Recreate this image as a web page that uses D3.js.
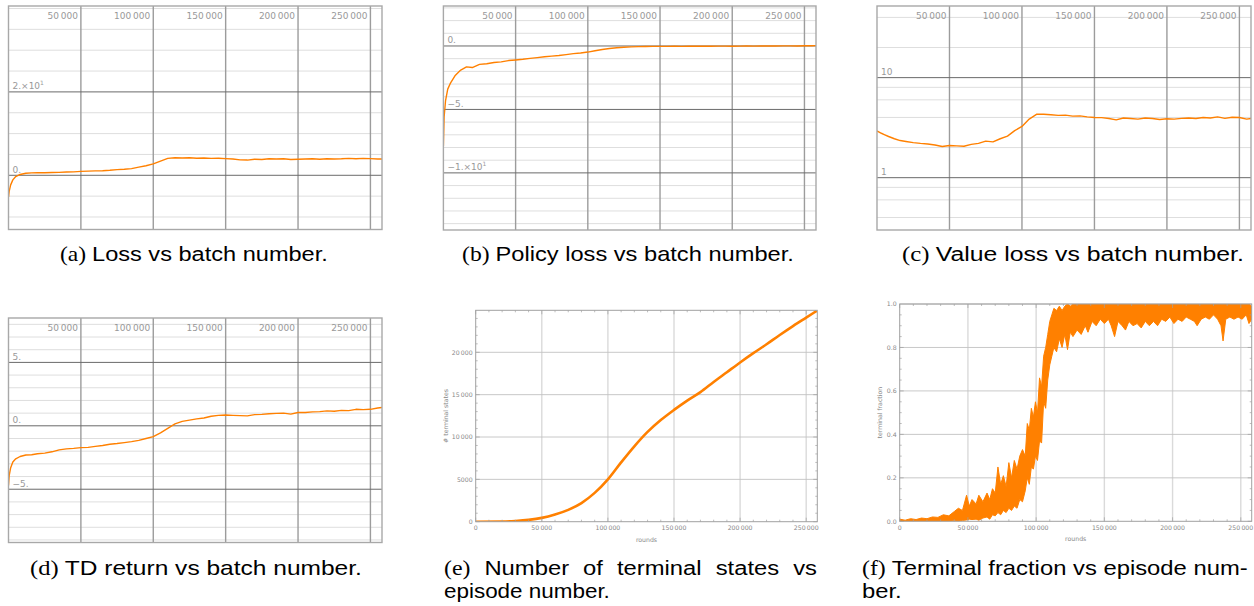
<!DOCTYPE html>
<html>
<head>
<meta charset="utf-8">
<script src="https://cdn.jsdelivr.net/npm/d3@7"></script>
<style>
  body { margin: 0; background: #fff; }
  svg { display: block; }
</style>
</head>
<body>
<svg id="chart" width="1254" height="606"></svg>
<script>
// batch numbers shared by panels (a)-(d)
const batches = [0, 500, 1500, 3000, 5000, 8000, 12000, 16000, 20000, 25000, 30000, 35000, 40000, 45000,
  50000, 55000, 60000, 65000, 70000, 75000, 80000, 85000, 90000, 95000, 100000, 105000, 110000, 115000,
  120000, 125000, 130000, 135000, 140000, 145000, 150000, 155000, 160000, 165000, 170000, 175000, 180000,
  185000, 190000, 195000, 200000, 205000, 210000, 215000, 220000, 225000, 230000, 235000, 240000, 245000,
  250000, 255000, 258000];

const lossValues = [-5.2, -3.8, -2.3, -1.1, -0.3, 0.2, 0.5, 0.58, 0.6, 0.62, 0.66, 0.7, 0.78, 0.82,
  0.95, 1.0, 1.05, 1.1, 1.2, 1.35, 1.45, 1.6, 1.95, 2.3, 2.75, 3.4, 4.05, 4.2,
  4.15, 4.2, 4.1, 4.15, 4.05, 4.1, 4.0, 3.9, 3.7, 3.65, 3.85, 3.8, 3.95,
  3.9, 3.95, 3.8, 3.85, 3.9, 3.95, 3.85, 3.95, 3.9, 3.95, 4.05, 3.95, 4.05,
  4.0, 3.9, 3.9];

const policyLossValues = [-7.9, -5.6, -4.3, -3.4, -2.9, -2.35, -1.9, -1.65, -1.7, -1.45, -1.4, -1.3, -1.25, -1.15,
  -1.1, -1.05, -0.98, -0.92, -0.85, -0.8, -0.75, -0.68, -0.6, -0.55, -0.48, -0.38, -0.28, -0.2,
  -0.14, -0.1, -0.07, -0.05, -0.04, -0.03, -0.03, -0.03, -0.02, -0.03, -0.02, -0.02, -0.01,
  -0.02, -0.01, -0.01, -0.02, -0.01, 0, -0.01, 0, 0.01, 0, 0.01, 0.01, 0,
  0.02, 0.02, 0.03];

const valueLossValues = [2.95, 2.9, 2.85, 2.78, 2.7, 2.58, 2.45, 2.35, 2.3, 2.24, 2.2, 2.17, 2.12, 2.05,
  2.1, 2.08, 2.06, 2.15, 2.2, 2.32, 2.28, 2.45, 2.6, 2.95, 3.25, 3.85, 4.3, 4.3,
  4.25, 4.2, 4.22, 4.12, 4.15, 4.05, 4.0, 3.98, 3.9, 3.78, 3.95, 3.9, 3.85,
  3.95, 3.9, 3.82, 3.88, 3.85, 3.92, 3.95, 3.9, 4.0, 3.95, 4.05, 3.92, 4.02,
  4.0, 3.85, 3.9];

const tdReturnValues = [-4.7, -3.9, -3.3, -2.85, -2.6, -2.42, -2.3, -2.28, -2.2, -2.15, -2.05, -1.9, -1.82, -1.78,
  -1.72, -1.7, -1.62, -1.55, -1.45, -1.4, -1.33, -1.25, -1.15, -1.0, -0.85, -0.55, -0.2, 0.15,
  0.35, 0.45, 0.55, 0.62, 0.75, 0.82, 0.85, 0.82, 0.8, 0.78, 0.88, 0.9, 0.95,
  0.98, 1.0, 0.92, 1.05, 1.05, 1.1, 1.12, 1.18, 1.15, 1.22, 1.2, 1.3, 1.28,
  1.3, 1.4, 1.45];

// panel (e)
const statesRounds = [0, 20000, 30000, 40000, 50000, 60000, 70000, 80000, 90000, 100000, 110000, 120000, 130000,
  140000, 150000, 160000, 170000, 180000, 190000, 200000, 210000, 220000, 230000, 240000, 250000, 258000];
const terminalStates = [0, 20, 90, 220, 450, 850, 1400, 2200, 3400, 5000, 7000, 8900, 10600,
  12000, 13200, 14300, 15300, 16500, 17650, 18800, 19900, 20950, 22050, 23100, 24100, 24900];

// panel (f): lower and upper edge of the noisy band
const fractionRounds = [0, 4000, 8000, 12000, 16000, 20000, 24000, 28000, 32000, 36000, 40000, 43000, 46000, 49000,
  51000, 53000, 56000, 58000, 61000, 64000, 66000, 68000, 70000, 72000, 74000, 76000, 78000, 80000,
  82000, 84000, 86000, 88000, 90000, 92000, 93500, 95000, 96500, 98000, 99500, 101000, 102500, 104000,
  105500, 107000, 108500, 110000, 111500, 113000, 115000, 117000, 119000, 121000, 123000, 125000, 127000,
  130000, 133000, 136000, 138000, 141000, 144000, 147000, 150000, 153000, 155000, 157500, 160000, 163000,
  165500, 168000, 171000, 174000, 177000, 180000, 183000, 186000, 189000, 192000, 195000, 198000, 201000,
  204000, 207000, 210000, 213000, 216000, 218000, 221000, 224000, 227000, 230000, 233000, 235500, 237000,
  239000, 242000, 245000, 248000, 251000, 254000, 256000, 258000];
const fractionLow = [0, 0, 0, 0, 0, 0, 0, 0, 0, 0, 0.002, 0, 0.004, 0.006,
  0.01, 0.008, 0.01, 0.005, 0.015, 0.02, 0.01, 0.03, 0.025, 0.04, 0.03, 0.05, 0.04, 0.06,
  0.05, 0.07, 0.06, 0.1, 0.09, 0.14, 0.2, 0.17, 0.25, 0.24, 0.3, 0.28, 0.37, 0.36,
  0.55, 0.52, 0.65, 0.72, 0.76, 0.8, 0.78, 0.84, 0.8, 0.86, 0.79, 0.87, 0.85,
  0.88, 0.86, 0.9, 0.87, 0.92, 0.9, 0.93, 0.91, 0.93, 0.9, 0.85, 0.92, 0.9,
  0.88, 0.92, 0.9, 0.91, 0.89, 0.92, 0.9, 0.92, 0.9, 0.93, 0.92, 0.94, 0.91,
  0.93, 0.92, 0.94, 0.93, 0.92, 0.9, 0.93, 0.94, 0.93, 0.95, 0.93, 0.9, 0.83,
  0.93, 0.94, 0.93, 0.94, 0.93, 0.95, 0.91, 0.93];
const fractionHigh = [0.01, 0.005, 0.012, 0.008, 0.015, 0.012, 0.02, 0.018, 0.03, 0.025, 0.045, 0.06, 0.05, 0.12,
  0.07, 0.1, 0.08, 0.12, 0.09, 0.13, 0.1, 0.15, 0.13, 0.25, 0.17, 0.21, 0.16, 0.27,
  0.2, 0.28, 0.24, 0.3, 0.33, 0.3, 0.45, 0.42, 0.52, 0.48, 0.55, 0.5, 0.66, 0.62,
  0.76, 0.8, 0.86, 0.92, 0.95, 0.98, 0.97, 0.99, 0.97, 0.99, 1.0, 0.99, 1.0,
  1.0, 1.0, 1.0, 1.0, 1.0, 1.0, 1.0, 1.0, 1.0, 1.0, 1.0, 1.0, 1.0,
  1.0, 1.0, 1.0, 1.0, 1.0, 1.0, 1.0, 1.0, 1.0, 1.0, 1.0, 1.0, 1.0,
  1.0, 1.0, 1.0, 1.0, 1.0, 1.0, 1.0, 1.0, 1.0, 1.0, 1.0, 1.0, 1.0,
  1.0, 1.0, 1.0, 1.0, 1.0, 1.0, 1.0, 0.99];

// ticks
const batchTicks = [50000, 100000, 150000, 200000, 250000];
const batchTickLabels = ['50\u2009000', '100\u2009000', '150\u2009000', '200\u2009000', '250\u2009000'];
const lossMajorTicks = [0, 20];
const lossTickLabels = [['0.'], ['2.\u00d710', '1']];
const lossMinorTicks = [-10, -5, 5, 10, 15, 25, 30, 35, 40];
const policyMajorTicks = [-10, -5, 0];
const policyTickLabels = [['\u22121.\u00d710', '1'], ['\u22125.'], ['0.']];
const policyMinorTicks = [-14, -13, -12, -11, -9, -8, -7, -6, -4, -3, -2, -1, 1, 2, 3];
const valueMajorTicks = [1, 10];
const valueTickLabels = [['1'], ['10']];
const valueMinorTicks = [0.4, 0.6, 0.8, 2, 4, 6, 8, 20, 40];
const tdMajorTicks = [-5, 0, 5];
const tdTickLabels = [['\u22125.'], ['0.'], ['5.']];
const tdMinorTicks = [-9, -8, -7, -6, -4, -3, -2, -1, 1, 2, 3, 4, 6, 7, 8];

const roundTicks = [0, 50000, 100000, 150000, 200000, 250000];
const roundTickLabels = ['0', '50\u2009000', '100\u2009000', '150\u2009000', '200\u2009000', '250\u2009000'];
const statesTicks = [0, 5000, 10000, 15000, 20000];
const statesTickLabels = ['0', '5000', '10\u2009000', '15\u2009000', '20\u2009000'];
const fractionTicks = [0, 0.2, 0.4, 0.6, 0.8, 1.0];
const fractionTickLabels = ['0.0', '0.2', '0.4', '0.6', '0.8', '1.0'];

const captionLines = [
  { label: '(a)', text: 'Loss vs batch number.', left: 60, right: 328, baseline: 261 },
  { label: '(b)', text: 'Policy loss vs batch number.', left: 462, right: 794, baseline: 261 },
  { label: '(c)', text: 'Value loss vs batch number.', left: 902, right: 1244, baseline: 261 },
  { label: '(d)', text: 'TD return vs batch number.', left: 30, right: 362, baseline: 575 },
  { label: '(e)', text: 'Number of terminal states vs', left: 444, right: 817, baseline: 575, justify: true },
  { label: '', text: 'episode number.', left: 444, right: 610, baseline: 598 },
  { label: '(f)', text: 'Terminal fraction vs episode num-', left: 862, right: 1248, baseline: 575 },
  { label: '', text: 'ber.', left: 862, right: null, baseline: 598 },
];

const orange = '#ff8000';
const tickFont = 'DejaVu Sans, sans-serif';
const svg = d3.select('#chart');
const defs = svg.append('defs');
let clipCount = 0;

function clip(left, top, right, bottom) {
  const id = 'clip' + (clipCount++);
  defs.append('clipPath').attr('id', id)
    .append('rect')
    .attr('x', left).attr('y', top)
    .attr('width', right - left).attr('height', bottom - top);
  return `url(#${id})`;
}

function hLines(g, values, y, left, right, color, width) {
  g.selectAll(null)
    .data(values)
    .join('line')
    .attr('x1', left).attr('x2', right)
    .attr('y1', (d) => y(d)).attr('y2', (d) => y(d))
    .attr('stroke', color).attr('stroke-width', width);
}

function vLines(g, values, x, top, bottom, color, width) {
  g.selectAll(null)
    .data(values)
    .join('line')
    .attr('x1', (d) => x(d)).attr('x2', (d) => x(d))
    .attr('y1', top).attr('y2', bottom)
    .attr('stroke', color).attr('stroke-width', width);
}

// panels (a)-(d): labels sit inside the plot
function innerPanel(p) {
  const x = d3.scaleLinear().domain([0, 258000]).range([p.left, p.right]);
  const y = (p.log ? d3.scaleLog() : d3.scaleLinear()).domain(p.domain).range([p.bottom, p.top]);
  const g = svg.append('g');

  hLines(g, p.minors, y, p.left, p.right, '#dedede', 1);
  vLines(g, batchTicks, x, p.top, p.bottom, '#9c9c9c', 1.4);
  hLines(g, p.majors, y, p.left, p.right, '#6a6a6a', 1);

  const line = d3.line()
    .x((d) => x(d[0]))
    .y((d) => y(d[1]));

  g.append('path')
    .datum(d3.zip(batches, p.values))
    .attr('clip-path', clip(p.left, p.top, p.right, p.bottom))
    .attr('fill', 'none')
    .attr('stroke', orange)
    .attr('stroke-width', 1.4)
    .attr('stroke-linejoin', 'round')
    .attr('d', line);

  g.append('rect')
    .attr('x', p.left).attr('y', p.top)
    .attr('width', p.right - p.left).attr('height', p.bottom - p.top)
    .attr('fill', 'none')
    .attr('stroke', '#a8a8a8')
    .attr('stroke-width', 1.4);

  g.selectAll(null)
    .data(batchTicks)
    .join('text')
    .attr('x', (d) => x(d) - 3)
    .attr('y', p.top + 13)
    .attr('text-anchor', 'end')
    .attr('font-family', tickFont)
    .attr('font-size', 9)
    .attr('fill', '#999')
    .text((d, i) => batchTickLabels[i]);

  p.majors.forEach((v, i) => {
    const lab = p.labels[i];
    const t = g.append('text')
      .attr('x', p.left + 4)
      .attr('y', y(v) - 2.5)
      .attr('font-family', tickFont)
      .attr('font-size', 9)
      .attr('fill', '#999')
      .text(lab[0]);
    if (lab[1]) {
      t.append('tspan')
        .attr('dy', -4)
        .attr('font-size', 6)
        .text(lab[1]);
    }
  });
}

innerPanel({ values: lossValues, left: 8.5, right: 382, top: 6, bottom: 229.5, log: false,
  domain: [-13, 40.6], majors: lossMajorTicks, minors: lossMinorTicks, labels: lossTickLabels });
innerPanel({ values: policyLossValues, left: 443.4, right: 816, top: 6, bottom: 230, log: false,
  domain: [-14.5, 3.15], majors: policyMajorTicks, minors: policyMinorTicks, labels: policyTickLabels });
innerPanel({ values: valueLossValues, left: 877, right: 1251, top: 6, bottom: 230, log: true,
  domain: [0.3, 52], majors: valueMajorTicks, minors: valueMinorTicks, labels: valueTickLabels });
innerPanel({ values: tdReturnValues, left: 8.5, right: 382, top: 318, bottom: 542.5, log: false,
  domain: [-9.2, 8.5], majors: tdMajorTicks, minors: tdMinorTicks, labels: tdTickLabels });

// panels (e), (f): framed with ticks and axis labels outside
function framedPanel(p) {
  const x = d3.scaleLinear().domain(p.xDomain).range([p.left, p.right]);
  const y = d3.scaleLinear().domain(p.yDomain).range([p.bottom, p.top]);
  const g = svg.append('g');

  vLines(g, roundTicks.slice(1), x, p.top, p.bottom, '#dadada', 1.4);
  hLines(g, p.yTicks.slice(1), y, p.left, p.right, '#c2c2c2', 0.9);

  p.draw(g.append('g').attr('clip-path', clip(p.left, p.top, p.right, p.bottom)), x, y);

  g.append('rect')
    .attr('x', p.left).attr('y', p.top)
    .attr('width', p.right - p.left).attr('height', p.bottom - p.top)
    .attr('fill', 'none')
    .attr('stroke', '#a0a0a0')
    .attr('stroke-width', 1);

  const ticks = g.append('g').attr('stroke', '#a0a0a0').attr('stroke-width', 0.7);
  d3.range(0, p.xDomain[1], 10000).forEach((v) => {
    const len = v % 50000 === 0 ? 4 : 2;
    ticks.append('line').attr('x1', x(v)).attr('x2', x(v)).attr('y1', p.bottom).attr('y2', p.bottom - len);
    ticks.append('line').attr('x1', x(v)).attr('x2', x(v)).attr('y1', p.top).attr('y2', p.top + len);
  });
  d3.range(0, p.yDomain[1], p.yMinorStep).forEach((v, i) => {
    const len = i % p.yMinorPer === 0 ? 4 : 2;
    ticks.append('line').attr('y1', y(v)).attr('y2', y(v)).attr('x1', p.left).attr('x2', p.left + len);
    ticks.append('line').attr('y1', y(v)).attr('y2', y(v)).attr('x1', p.right).attr('x2', p.right - len);
  });

  g.selectAll(null)
    .data(roundTicks)
    .join('text')
    .attr('x', (d) => x(d))
    .attr('y', p.bottom + 8.5)
    .attr('text-anchor', 'middle')
    .attr('font-family', tickFont)
    .attr('font-size', 6.2)
    .attr('fill', '#888')
    .text((d, i) => roundTickLabels[i]);

  g.selectAll(null)
    .data(p.yTicks)
    .join('text')
    .attr('x', p.left - 3)
    .attr('y', (d) => y(d) + 2.2)
    .attr('text-anchor', 'end')
    .attr('font-family', tickFont)
    .attr('font-size', 6.2)
    .attr('fill', '#888')
    .text((d, i) => p.yLabels[i]);

  g.append('text')
    .attr('x', (p.left + p.right) / 2)
    .attr('y', p.bottom + 20)
    .attr('text-anchor', 'middle')
    .attr('font-family', tickFont)
    .attr('font-size', 6.2)
    .attr('fill', '#888')
    .text('rounds');

  g.append('text')
    .attr('transform', `translate(${p.yTitleX},${(p.top + p.bottom) / 2}) rotate(-90)`)
    .attr('text-anchor', 'middle')
    .attr('font-family', tickFont)
    .attr('font-size', 6.2)
    .attr('fill', '#888')
    .text(p.yTitle);
}

framedPanel({
  left: 475.7, right: 817.3, top: 310.3, bottom: 521.7,
  xDomain: [0, 258400], yDomain: [0, 24960],
  yTicks: statesTicks, yLabels: statesTickLabels, yMinorStep: 1000, yMinorPer: 5,
  yTitle: '# terminal states', yTitleX: 448,
  draw: (g, x, y) => {
    g.append('path')
      .datum(d3.zip(statesRounds, terminalStates))
      .attr('fill', 'none')
      .attr('stroke', orange)
      .attr('stroke-width', 2.6)
      .attr('d', d3.line().x((d) => x(d[0])).y((d) => y(d[1])).curve(d3.curveMonotoneX));
  },
});

framedPanel({
  left: 899.7, right: 1251.7, top: 304, bottom: 521.3,
  xDomain: [0, 258000], yDomain: [0, 1],
  yTicks: fractionTicks, yLabels: fractionTickLabels, yMinorStep: 0.05, yMinorPer: 4,
  yTitle: 'terminal fraction', yTitleX: 882,
  draw: (g, x, y) => {
    const area = d3.area()
      .x((d) => x(d[0]))
      .y0((d) => y(d[1]))
      .y1((d) => y(d[2]));
    g.append('path')
      .datum(d3.zip(fractionRounds, fractionLow, fractionHigh))
      .attr('fill', orange)
      .attr('stroke', orange)
      .attr('stroke-width', 1)
      .attr('d', area);
  },
});

// captions
const capSize = 21;
const serif = 'Liberation Serif, serif';
const sans = 'Liberation Sans Narrow, Liberation Sans, Arial, sans-serif';

function captionText(c, x, word, isLabel) {
  return svg.append('text')
    .attr('transform', `translate(${x},${c.baseline})`)
    .attr('font-size', capSize)
    .attr('font-family', isLabel ? serif : sans)
    .attr('fill', '#000')
    .text(word);
}

const scales = [];
captionLines.filter((c) => c.right && !c.justify).forEach((c) => {
  const t = svg.append('text')
    .attr('font-size', capSize)
    .attr('fill', '#000');
  if (c.label) t.append('tspan').attr('font-family', serif).text(c.label + ' ');
  t.append('tspan').attr('font-family', sans).text(c.text);
  const s = (c.right - c.left) / t.node().getComputedTextLength();
  scales.push(s);
  t.attr('transform', `translate(${c.left},${c.baseline}) scale(${s},1)`);
});
const meanScale = d3.mean(scales);

captionLines.filter((c) => c.justify).forEach((c) => {
  const words = [c.label].concat(c.text.split(' '));
  const nodes = words.map((w, i) => captionText(c, 0, w, i === 0));
  const widths = nodes.map((n) => n.node().getComputedTextLength() * meanScale);
  const gap = (c.right - c.left - d3.sum(widths)) / (words.length - 1);
  let pos = c.left;
  nodes.forEach((n, i) => {
    n.attr('transform', `translate(${pos},${c.baseline}) scale(${meanScale},1)`);
    pos += widths[i] + gap;
  });
});

captionLines.filter((c) => !c.right).forEach((c) => {
  captionText(c, 0, c.text, false)
    .attr('transform', `translate(${c.left},${c.baseline}) scale(${meanScale},1)`);
});
</script>
</body>
</html>
